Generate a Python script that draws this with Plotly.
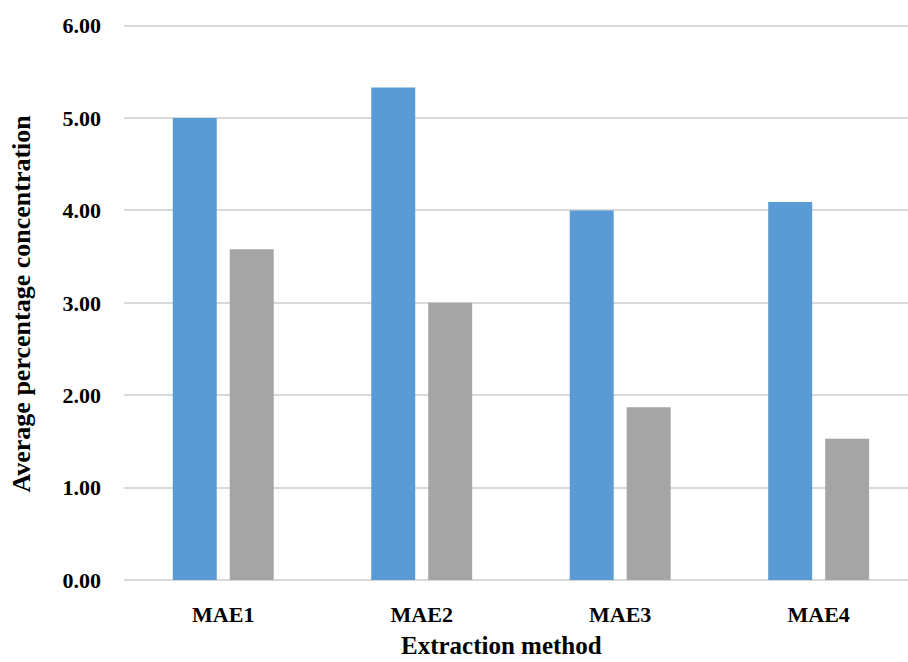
import plotly.graph_objects as go

categories = ["MAE1", "MAE2", "MAE3", "MAE4"]
series_a = [5.00, 5.33, 4.00, 4.09]
series_b = [3.58, 3.00, 1.87, 1.53]
y_ticks = [0, 1, 2, 3, 4, 5, 6]
y_tick_labels = ["0.00", "1.00", "2.00", "3.00", "4.00", "5.00", "6.00"]

FONT = "Liberation Serif"

fig = go.Figure()
fig.add_trace(go.Bar(x=categories, y=series_a, marker=dict(color="#5B9BD5", line=dict(width=0)), name="A"))
fig.add_trace(go.Bar(x=categories, y=series_b, marker=dict(color="#A5A5A5", line=dict(width=0)), name="B"))

fig.update_layout(
    width=908, height=662,
    margin=dict(l=124, r=0, t=21, b=82),
    paper_bgcolor="white", plot_bgcolor="white",
    barmode="group", bargap=0.426, bargroupgap=0.228,
    showlegend=False,
    font=dict(family=FONT, color="black"),
)
fig.update_xaxes(
    type="category",
    range=[-0.5, 3.45],
    showgrid=False, zeroline=False, showline=False,
    ticks="", ticklabelstandoff=19,
    tickfont=dict(family=FONT, size=22, color="black", weight="bold"),
)
fig.update_yaxes(
    range=[0, 6.05],
    tickvals=y_ticks, ticktext=y_tick_labels,
    showgrid=True, gridcolor="#D9D9D9", gridwidth=1.5,
    zeroline=True, zerolinecolor="#D9D9D9", zerolinewidth=1.5,
    showline=False, ticks="", ticklabelstandoff=22,
    tickfont=dict(family=FONT, size=22, color="black", weight="bold"),
)
fig.add_annotation(
    text="<b>Average percentage concentration</b>",
    xref="paper", yref="paper", x=-0.131, y=0.495,
    xanchor="center", yanchor="middle", textangle=-90,
    showarrow=False, font=dict(family=FONT, size=26, color="black"),
)
fig.add_annotation(
    text="<b>Extraction method</b>",
    xref="paper", yref="paper", x=0.481, y=-0.118,
    xanchor="center", yanchor="middle",
    showarrow=False, font=dict(family=FONT, size=25, color="black"),
)
fig.write_html(
    "out.html",
    config={"displayModeBar": False},
    post_script="document.body.style.margin='0';document.body.style.padding='0';",
)
